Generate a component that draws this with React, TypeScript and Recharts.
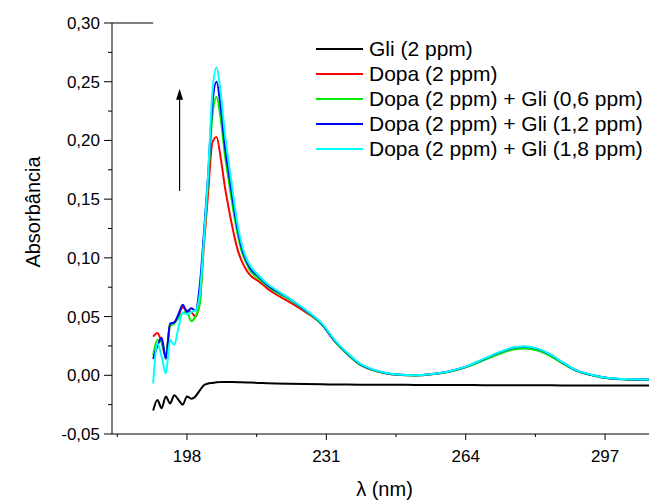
import { LineChart, Line, XAxis, YAxis, ReferenceLine, Label } from 'recharts'

const FONT = '"Liberation Sans", Arial, sans-serif'

// wavelength (nm)
const WAVELENGTH = [
  190, 191, 192, 193, 194, 195, 196, 197, 198, 199, 200, 201, 202, 203, 204, 205,
  206, 207, 208, 209, 210, 211, 212, 213, 215, 217, 219, 222, 226, 230, 233, 236,
  239, 242, 245, 248, 252, 256, 260, 264, 268, 272, 275, 278, 281, 284, 287, 290,
  294, 298, 302, 308,
]

const GLI = [
  -0.030, -0.021, -0.028, -0.018, -0.024, -0.017, -0.021, -0.025, -0.018, -0.020, -0.018, -0.013, -0.0085, -0.007, -0.0065, -0.006,
  -0.0058, -0.0057, -0.0057, -0.0058, -0.0059, -0.006, -0.0061, -0.0062, -0.0065, -0.0068, -0.007, -0.0072, -0.0075, -0.0077, -0.0078, -0.0079,
  -0.008, -0.008, -0.0081, -0.0081, -0.0082, -0.0082, -0.0083, -0.0083, -0.0084, -0.0084, -0.0084, -0.0085, -0.0085, -0.0085, -0.0086, -0.0086,
  -0.0087, -0.0087, -0.0088, -0.0088,
]

const DOPA = [
  0.033, 0.036, 0.028, 0.016, 0.043, 0.045, 0.051, 0.058, 0.055, 0.054, 0.050, 0.062, 0.110, 0.155, 0.198, 0.203,
  0.185, 0.160, 0.140, 0.122, 0.107, 0.097, 0.090, 0.085, 0.080, 0.074, 0.069, 0.063, 0.054, 0.043, 0.029, 0.018,
  0.009, 0.0045, 0.0018, 0.0004, -0.0002, 0.0008, 0.003, 0.007, 0.0128, 0.0188, 0.0222, 0.0232, 0.0215, 0.0168, 0.0102, 0.0042,
  0.0, -0.0026, -0.0034, -0.0038,
]

const DOPA_GLI_06 = [
  0.017, 0.030, 0.028, 0.017, 0.042, 0.044, 0.049, 0.053, 0.054, 0.046, 0.050, 0.060, 0.115, 0.165, 0.220, 0.237,
  0.218, 0.187, 0.163, 0.140, 0.120, 0.105, 0.096, 0.089, 0.082, 0.076, 0.071, 0.065, 0.055, 0.043, 0.029, 0.018,
  0.009, 0.0045, 0.0018, 0.0004, -0.0002, 0.0008, 0.0029, 0.0068, 0.0125, 0.0183, 0.0218, 0.0228, 0.0211, 0.0165, 0.01, 0.004,
  -0.0001, -0.0027, -0.0035, -0.0039,
]

const DOPA_GLI_12 = [
  0.014, 0.025, 0.032, 0.014, 0.044, 0.045, 0.052, 0.060, 0.054, 0.057, 0.055, 0.075, 0.120, 0.170, 0.230, 0.250,
  0.228, 0.195, 0.170, 0.146, 0.124, 0.108, 0.098, 0.091, 0.084, 0.077, 0.072, 0.066, 0.0555, 0.0435, 0.0295, 0.0185,
  0.0095, 0.0048, 0.002, 0.0006, 0.0, 0.001, 0.0032, 0.0073, 0.0133, 0.0195, 0.0232, 0.0243, 0.0225, 0.0177, 0.0108, 0.0045,
  0.0002, -0.0025, -0.0033, -0.0037,
]

const DOPA_GLI_18 = [
  -0.007, 0.027, 0.016, 0.0015, 0.030, 0.026, 0.041, 0.053, 0.052, 0.054, 0.055, 0.068, 0.115, 0.170, 0.240, 0.262,
  0.240, 0.205, 0.178, 0.152, 0.128, 0.111, 0.100, 0.093, 0.085, 0.078, 0.073, 0.066, 0.056, 0.044, 0.030, 0.019,
  0.010, 0.005, 0.0022, 0.0007, 0.0001, 0.0011, 0.0033, 0.0074, 0.0135, 0.0197, 0.0234, 0.0245, 0.0227, 0.0179, 0.011, 0.0046,
  0.0003, -0.0024, -0.0032, -0.0036,
]

const SERIES = [
  { key: 'gli', name: 'Gli (2 ppm)', color: '#000000', values: GLI },
  { key: 'dopa', name: 'Dopa (2 ppm)', color: '#ff0000', values: DOPA },
  { key: 'g06', name: 'Dopa (2 ppm) + Gli (0,6 ppm)', color: '#00ee00', values: DOPA_GLI_06 },
  { key: 'g12', name: 'Dopa (2 ppm) + Gli (1,2 ppm)', color: '#0000ff', values: DOPA_GLI_12 },
  { key: 'g18', name: 'Dopa (2 ppm) + Gli (1,8 ppm)', color: '#00ffff', values: DOPA_GLI_18 },
]

// major + minor ticks
const X_TICKS = [181.5, 198, 214.5, 231, 247.5, 264, 280.5, 297]
const X_LABELS = [198, 231, 264, 297]
const Y_TICKS = [-0.05, -0.025, 0, 0.025, 0.05, 0.075, 0.1, 0.125, 0.15, 0.175, 0.2, 0.225, 0.25, 0.275, 0.3]

const rows = WAVELENGTH.map((w, i) => ({
  w,
  ...Object.fromEntries(SERIES.map(s => [s.key, s.values[i]])),
}))

const XTick = ({ x, y, payload }: any) => {
  const major = X_LABELS.includes(payload.value)
  return (
    <g>
      <line x1={x} x2={x} y1={y} y2={y + (major ? 6 : 3)} stroke="#000" strokeWidth={1} />
      {major && (
        <text x={x} y={y + 28} textAnchor="middle" fontSize={17} fontFamily={FONT} fill="#000">
          {payload.value}
        </text>
      )}
    </g>
  )
}

const YTick = ({ x, y, payload }: any) => {
  const major = Math.round(payload.value * 1000) % 50 === 0
  return (
    <g>
      <line x1={x - (major ? 8 : 4)} x2={x} y1={y} y2={y} stroke="#000" strokeWidth={1} />
      {major && (
        <text x={x - 12} y={y + 6} textAnchor="end" fontSize={17} fontFamily={FONT} fill="#000">
          {payload.value.toFixed(2).replace('.', ',')}
        </text>
      )}
    </g>
  )
}

const Arrow = (p: any) => (
  <g>
    <line x1={p.x1} y1={p.y1} x2={p.x2} y2={p.y2 + 9} stroke="#000" strokeWidth={1.2} />
    <polygon points={`${p.x2},${p.y2} ${p.x2 - 3.5},${p.y2 + 11} ${p.x2 + 3.5},${p.y2 + 11}`} fill="#000" />
  </g>
)

export default function App() {
  return (
    <div style={{ position: 'absolute', left: 0, top: 0, width: 649, height: 500, background: '#fff' }}>
      <LineChart width={649} height={500} data={rows} margin={{ top: 23, right: 0, bottom: 0, left: 0 }}>
        <XAxis
          type="number"
          dataKey="w"
          domain={[180.25, 307.4]}
          allowDataOverflow
          ticks={X_TICKS}
          interval={0}
          height={66}
          tickSize={0}
          tickMargin={0}
          tickLine={false}
          tick={<XTick />}
          axisLine={{ stroke: '#000', strokeWidth: 1 }}
        >
          <Label
            content={({ viewBox }: any) => (
              <text x={viewBox.x + viewBox.width / 2 + 4} y={496} textAnchor="middle" fontSize={20} fontFamily={FONT} fill="#000">
                λ (nm)
              </text>
            )}
          />
        </XAxis>
        <YAxis
          type="number"
          domain={[-0.05, 0.3]}
          ticks={Y_TICKS}
          interval={0}
          width={112}
          tickSize={0}
          tickMargin={0}
          tickLine={false}
          tick={<YTick />}
          axisLine={{ stroke: '#000', strokeWidth: 1 }}
        >
          <Label
            content={() => {
              const cx = 40
              const cy = 212
              return (
                <text x={cx} y={cy} transform={`rotate(-90 ${cx} ${cy})`} textAnchor="middle" fontSize={20} fontFamily={FONT} fill="#000">
                  Absorbância
                </text>
              )
            }}
          />
        </YAxis>
        <ReferenceLine
          segment={[{ x: 180.25, y: 0.3 }, { x: 190, y: 0.3 }]}
          stroke="#000"
          strokeWidth={1}
          ifOverflow="visible"
        />
        {SERIES.map(s => (
          <Line
            key={s.key}
            type="monotone"
            dataKey={s.key}
            name={s.name}
            stroke={s.color}
            strokeWidth={2}
            dot={false}
            isAnimationActive={false}
          />
        ))}
        <ReferenceLine
          segment={[{ x: 196.25, y: 0.157 }, { x: 196.25, y: 0.244 }]}
          ifOverflow="visible"
          shape={Arrow}
        />
      </LineChart>
      <div style={{ position: 'absolute', left: 316, top: 36, fontFamily: FONT, fontSize: 21, color: '#000' }}>
        {SERIES.map(s => (
          <div key={s.key} style={{ display: 'flex', alignItems: 'center', height: 25, whiteSpace: 'nowrap' }}>
            <div style={{ width: 47, height: 2, background: s.color, marginRight: 6 }} />
            <span style={{ lineHeight: '25px' }}>{s.name}</span>
          </div>
        ))}
      </div>
    </div>
  )
}
